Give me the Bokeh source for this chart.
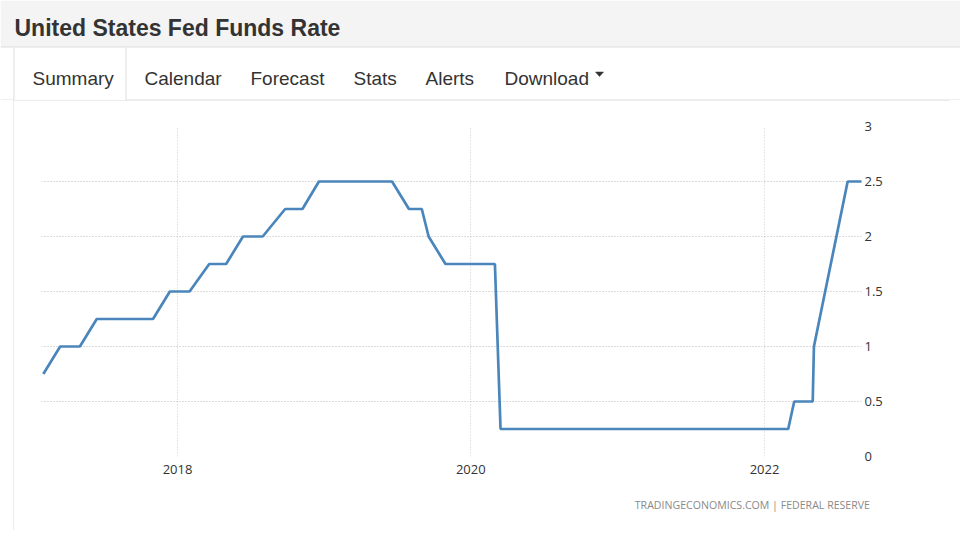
import pandas as pd
from bokeh.plotting import figure
from bokeh.layouts import column, row
from bokeh.models import Range1d, FixedTicker, DatetimeTickFormatter, Title, Spacer, Plot
from bokeh.embed import file_html
from bokeh.resources import INLINE
from bokeh.core.properties import value

# ---------------- data ----------------
PAGE_TITLE = "United States Fed Funds Rate"
TABS = ["Summary", "Calendar", "Forecast", "Stats", "Alerts", "Download"]
SOURCE_NOTE = "TRADINGECONOMICS.COM  |  FEDERAL RESERVE"

dates = [
    "2017-02-01", "2017-03-15", "2017-05-03", "2017-06-14", "2017-07-26", "2017-09-20",
    "2017-11-01", "2017-12-13", "2018-01-31", "2018-03-21", "2018-05-02", "2018-06-13",
    "2018-08-01", "2018-09-26", "2018-11-08", "2018-12-19", "2019-01-30", "2019-03-20",
    "2019-05-01", "2019-06-19", "2019-07-31", "2019-09-01", "2019-09-18", "2019-10-30",
    "2019-12-11", "2020-01-29", "2020-03-01", "2020-03-15", "2020-04-29", "2020-06-10",
    "2020-07-29", "2020-09-16", "2020-11-05", "2020-12-16", "2021-01-27", "2021-03-17",
    "2021-04-28", "2021-06-16", "2021-07-28", "2021-09-22", "2021-11-03", "2021-12-15",
    "2022-01-26", "2022-03-01", "2022-03-16", "2022-05-01", "2022-05-04", "2022-06-15",
    "2022-07-27", "2022-09-01",
]
rates = [
    0.75, 1.00, 1.00, 1.25, 1.25, 1.25,
    1.25, 1.50, 1.50, 1.75, 1.75, 2.00,
    2.00, 2.25, 2.25, 2.50, 2.50, 2.50,
    2.50, 2.50, 2.25, 2.25, 2.00, 1.75,
    1.75, 1.75, 1.75, 0.25, 0.25, 0.25,
    0.25, 0.25, 0.25, 0.25, 0.25, 0.25,
    0.25, 0.25, 0.25, 0.25, 0.25, 0.25,
    0.25, 0.25, 0.50, 0.50, 1.00, 1.75,
    2.50, 2.50,
]
x_tick_years = [2018, 2020, 2022]
y_ticks = [0, 0.5, 1, 1.5, 2, 2.5, 3]
y_tick_labels = ["0", "0.5", "1", "1.5", "2", "2.5", "3"]

# ---------------- styles ----------------
PAGE_W = 960
HEAD_H = 100
CHART_H = 430
BOX_LEFT = 13
BOX_W = 937
TEXT_DARK = "#333333"
BORDER = "#dddddd"
LINE_COLOR = "#4a86bb"
UI_FONT = "Liberation Sans"
AXIS_FONT = "Open Sans"
HAS_FRAME_ALIGN = "frame_align" in Plot.properties()

# ---------------- header (page chrome) ----------------
h = figure(frame_width=PAGE_W, frame_height=HEAD_H,
           x_range=Range1d(0, PAGE_W), y_range=Range1d(HEAD_H, 0),
           x_axis_type=None, y_axis_type=None, toolbar_location=None,
           output_backend="svg", min_border=0, outline_line_color=None,
           background_fill_color="white", border_fill_color="white")
if HAS_FRAME_ALIGN:
    h.frame_align = False
h.grid.visible = False
h.quad(left=[0], right=[PAGE_W], top=[0], bottom=[46.5], fill_color="#f4f4f4", line_color=None)
h.segment(x0=[0], y0=[46.5], x1=[PAGE_W], y1=[46.5], line_color=BORDER, line_width=1)
# active tab box and tab bar bottom rule
h.segment(x0=[13.5, 125.5, 0, 125.5], y0=[47, 47, 99.5, 99.5],
          x1=[13.5, 125.5, 13.5, PAGE_W], y1=[100, 100, 99.5, 99.5],
          line_color=BORDER, line_width=1)
h.text(x=[14], y=[27.5], text=[PAGE_TITLE], text_font=value(UI_FONT), text_font_size="23px",
       text_font_style="bold", text_color=TEXT_DARK, text_baseline="alphabetic")
tab_x = [32, 144, 250, 353, 425, 504]
h.text(x=tab_x, y=[78] * len(TABS), text=TABS, text_font=value(UI_FONT), text_font_size="19px",
       text_color=TEXT_DARK, text_baseline="alphabetic")
h.patch(x=[595, 603, 599], y=[71.5, 71.5, 76], fill_color=TEXT_DARK, line_color=TEXT_DARK, line_width=0.5)

# ---------------- chart ----------------
x_dates = pd.to_datetime(dates)
x_start = pd.Timestamp("2017-01-27 12:00")
x_end = pd.Timestamp("2022-08-30 10:00")

p = figure(width=BOX_W, height=CHART_H, x_axis_type="datetime", y_axis_location="right",
           x_range=Range1d(x_start, x_end), y_range=Range1d(0, 3),
           toolbar_location=None, output_backend="svg",
           min_border_left=28, min_border_right=89, min_border_top=26, min_border_bottom=74,
           outline_line_color=None, background_fill_color="white", border_fill_color="white")
if HAS_FRAME_ALIGN:
    p.frame_align = False
p.styles = {"outline": "1px solid #e6e6e6", "outline-offset": "-1px"}

p.line(x=x_dates, y=rates, line_color=LINE_COLOR, line_width=2.7)

x_ticks_ms = [pd.Timestamp(f"{yr}-01-01").value / 1e6 for yr in x_tick_years]
p.xaxis.ticker = FixedTicker(ticks=x_ticks_ms)
p.xaxis.formatter = DatetimeTickFormatter(years="%Y", months="%Y", days="%Y", hours="%Y")
p.yaxis.ticker = FixedTicker(ticks=y_ticks)
p.yaxis.major_label_overrides = dict(zip(y_ticks, y_tick_labels))

for ax in (p.xaxis[0], p.yaxis[0]):
    ax.axis_line_color = None
    ax.major_tick_line_color = None
    ax.minor_tick_line_color = None
    ax.major_tick_out = 0
    ax.major_tick_in = 0
    ax.major_label_text_font = AXIS_FONT
    ax.major_label_text_font_size = "13px"
    ax.major_label_text_color = TEXT_DARK
p.xaxis.major_label_standoff = 8
p.yaxis.major_label_standoff = 3

p.grid.grid_line_dash = "1 2"
p.grid.grid_line_width = 1
p.ygrid.grid_line_color = "#b8b8b8"
p.xgrid.grid_line_color = "#cccccc"

p.add_layout(Title(text=SOURCE_NOTE, align="right", text_font=AXIS_FONT, text_font_size="10.6px",
                   text_font_style="normal", text_color="#8a8a8a", standoff=38, offset=-14), "below")

layout = column(h, row(Spacer(width=BOX_LEFT, height=CHART_H), p, spacing=0), spacing=0)
open("out.html", "w").write(file_html(layout, INLINE))
